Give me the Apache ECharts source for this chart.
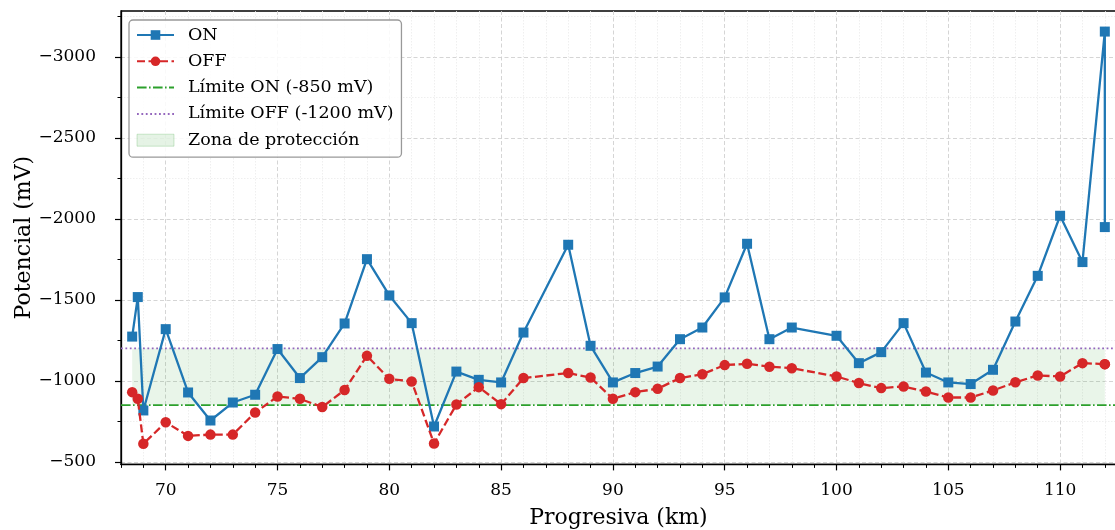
<!DOCTYPE html>
<html>
<head>
<meta charset="utf-8">
<title>Potencial ON / OFF</title>
<script src="https://cdn.jsdelivr.net/npm/echarts@6/dist/echarts.min.js"></script>
<style>
  html, body { margin: 0; padding: 0; background: #fff; }
  #chart { width: 1115px; height: 530px; }
</style>
</head>
<body>
<div id="chart"></div>
<script>
// Progresiva (km) of each measurement station
const km = [68.5, 68.75, 69, 70, 71, 72, 73, 74, 75, 76, 77, 78, 79, 80, 81, 82, 83, 84, 85, 86,
            88, 89, 90, 91, 92, 93, 94, 95, 96, 97, 98, 100, 101, 102, 103, 104, 105, 106, 107,
            108, 109, 110, 111, 112, 112];

// Potencial ON (mV)
const onValues = [-1273, -1517, -817, -1319, -928, -755, -866, -914, -1196, -1017, -1146, -1354,
                  -1751, -1527, -1356, -718, -1057, -1006, -990, -1298, -1840, -1216, -990, -1048,
                  -1088, -1257, -1329, -1515, -1846, -1257, -1329, -1278, -1109, -1177, -1356,
                  -1051, -990, -980, -1068, -1366, -1648, -2019, -1733, -3156, -1949];

// Potencial OFF (mV)
const offValues = [-930, -889, -611, -744, -660, -668, -668, -804, -903, -889, -838, -943,
                   -1154, -1012, -996, -613, -854, -961, -856, -1017, -1048, -1020, -889, -930,
                   -951, -1017, -1041, -1097, -1105, -1087, -1078, -1027, -986, -955, -965,
                   -934, -897, -897, -940, -991, -1033, -1027, -1109, -1103, -1103];

// Criteria limits (mV)
const limitOn = -850;
const limitOff = -1200;

// Tick labels
const xTickLabels = [70, 75, 80, 85, 90, 95, 100, 105, 110];
const yTickLabels = [-3000, -2500, -2000, -1500, -1000, -500];
const yMinorTicks = [-3250, -2750, -2250, -1750, -1250, -750];

// Axis ranges
const xRange = [68, 112.5];
const yRange = [-3283, -484];

const xMinorTicks = [];
for (let k = Math.ceil(xRange[0]); k <= Math.floor(xRange[1]); k++) {
  if (k % 5 !== 0) xMinorTicks.push(k);
}

const FONT = 'DejaVu Serif';
const fmtMinus = v => (v < 0 ? '\u2212' + Math.abs(v) : String(v));

const pair = (xs, ys) => xs.map((x, i) => [x, ys[i]]);

// legend entries of plain reference lines: line sample only, no marker
const lineOnlyItem = name => ({
  name,
  itemStyle: { color: 'rgba(0,0,0,0)', borderColor: 'rgba(0,0,0,0)', opacity: 0 }
});

const chart = echarts.init(document.getElementById('chart'), null, { renderer: 'canvas' });

chart.setOption({
  animation: false,
  backgroundColor: '#fff',
  grid: {
    left: 121, top: 11, width: 995, height: 453.4,
    outerBoundsMode: 'none', containLabel: false,
    show: true, borderColor: '#000', borderWidth: 1.3, backgroundColor: 'transparent'
  },
  legend: {
    orient: 'vertical',
    left: 129, top: 20,
    padding: [6, 8, 8, 7],
    itemWidth: 37, itemHeight: 12, itemGap: 8.3,
    backgroundColor: 'rgba(255,255,255,0.85)',
    borderColor: '#999999', borderWidth: 1.3, borderRadius: 4,
    textStyle: { fontFamily: FONT, fontSize: 17.5, color: '#000', padding: [0, 0, 0, 9] },
    data: [
      'ON', 'OFF',
      lineOnlyItem('Límite ON (-850 mV)'),
      lineOnlyItem('Límite OFF (-1200 mV)'),
      { name: 'Zona de protección', icon: 'rect',
        itemStyle: { color: 'rgba(44,160,44,0.12)', borderColor: 'rgba(44,160,44,0.22)', borderWidth: 1 } }
    ]
  },
  xAxis: [
    {
      type: 'value', min: xRange[0], max: xRange[1], position: 'bottom',
      name: 'Progresiva (km)', nameLocation: 'middle', nameGap: 43, nameMoveOverlap: false,
      nameTextStyle: { fontFamily: FONT, fontSize: 22, color: '#000' },
      axisLine: { show: true, onZero: false, lineStyle: { color: '#000', width: 1.3 } },
      axisTick: { show: true, customValues: xTickLabels, length: 6, lineStyle: { color: '#000', width: 1.2 } },
      axisLabel: { customValues: xTickLabels, margin: 18, fontFamily: FONT, fontSize: 17, color: '#000' },
      splitLine: { show: true, lineStyle: { color: '#d0d0d0', width: 0.9, type: [4, 2.5] } }
    },
    {
      type: 'value', min: xRange[0], max: xRange[1], position: 'bottom', gridIndex: 0,
      axisLine: { show: false, onZero: false },
      axisTick: { show: true, customValues: xMinorTicks, length: 3.5, lineStyle: { color: '#000', width: 1 } },
      axisLabel: { show: false },
      splitLine: { show: true, lineStyle: { color: '#ebebeb', width: 0.8, type: [1.5, 1.5] } }
    }
  ],
  yAxis: [
    {
      type: 'value', inverse: true, min: yRange[0], max: yRange[1], position: 'left',
      name: 'Potencial (mV)', nameLocation: 'middle', nameGap: 86, nameRotate: 90, nameMoveOverlap: false,
      nameTextStyle: { fontFamily: FONT, fontSize: 22, color: '#000' },
      axisLine: { show: true, onZero: false, lineStyle: { color: '#000', width: 1.3 } },
      axisTick: { show: true, customValues: yTickLabels, length: 6, lineStyle: { color: '#000', width: 1.2 } },
      axisLabel: { customValues: yTickLabels, margin: 25, fontFamily: FONT, fontSize: 17, color: '#000',
                   formatter: fmtMinus },
      splitLine: { show: true, lineStyle: { color: '#d0d0d0', width: 0.9, type: [4, 2.5] } }
    },
    {
      type: 'value', inverse: true, min: yRange[0], max: yRange[1], position: 'left', gridIndex: 0,
      axisLine: { show: false, onZero: false },
      axisTick: { show: true, customValues: yMinorTicks, length: 3.5, lineStyle: { color: '#000', width: 1 } },
      axisLabel: { show: false },
      splitLine: { show: true, lineStyle: { color: '#ebebeb', width: 0.8, type: [1.5, 1.5] } }
    }
  ],
  series: [
    {
      name: 'Zona de protección', type: 'line', data: [], z: 1,
      itemStyle: { color: 'rgba(44,160,44,0.12)' },
      markArea: {
        silent: true,
        itemStyle: { color: 'rgba(44,160,44,0.1)' },
        data: [[{ coord: [km[0], limitOff] }, { coord: [km[km.length - 1], limitOn] }]]
      }
    },
    {
      name: 'Límite ON (-850 mV)', type: 'line', z: 2,
      data: pair(xRange, [limitOn, limitOn]),
      symbol: 'none', silent: true,
      itemStyle: { color: '#2ca02c' },
      lineStyle: { color: '#2ca02c', width: 1.8, type: [9.6, 2.4, 1.6, 2.4] }
    },
    {
      name: 'Límite OFF (-1200 mV)', type: 'line', z: 2,
      data: pair(xRange, [limitOff, limitOff]),
      symbol: 'none', silent: true,
      itemStyle: { color: '#9467bd' },
      lineStyle: { color: '#9467bd', width: 1.8, type: [1.8, 2.6] }
    },
    {
      name: 'ON', type: 'line', z: 3,
      data: pair(km, onValues),
      symbol: 'rect', symbolSize: 10, showAllSymbol: true,
      itemStyle: { color: '#1f77b4' },
      lineStyle: { color: '#1f77b4', width: 2.3 }
    },
    {
      name: 'OFF', type: 'line', z: 4,
      data: pair(km, offValues),
      symbol: 'circle', symbolSize: 10.5, showAllSymbol: true,
      itemStyle: { color: '#d62728' },
      lineStyle: { color: '#d62728', width: 2.3, type: [8, 3.5] }
    }
  ]
});
</script>
</body>
</html>
